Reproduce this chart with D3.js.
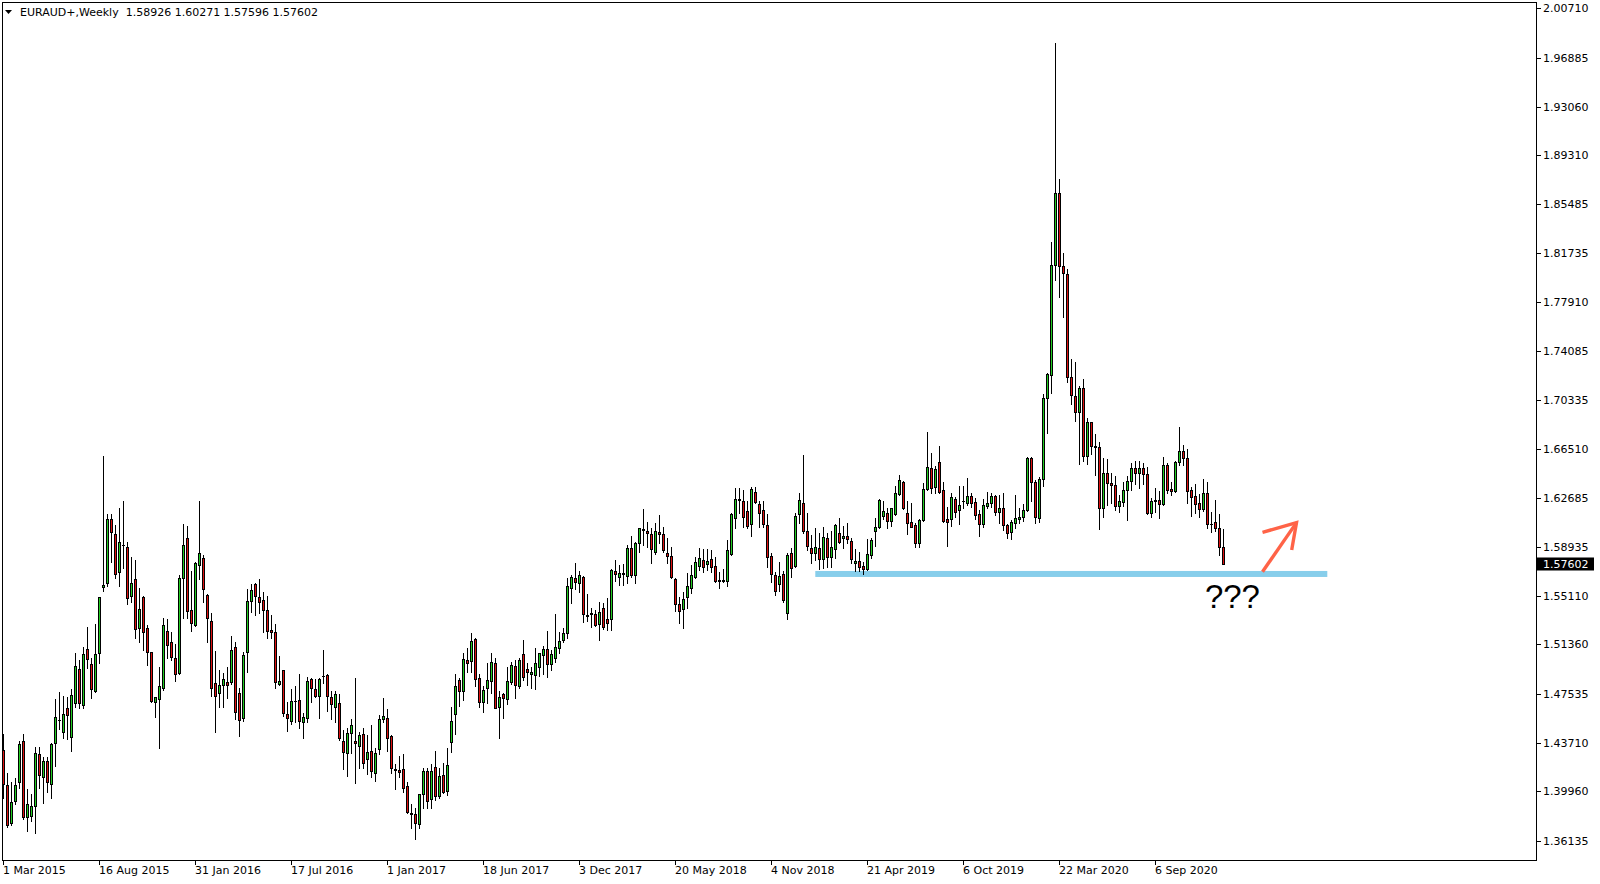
<!DOCTYPE html>
<html><head><meta charset="utf-8">
<script src="https://cdn.jsdelivr.net/npm/d3@7"></script>
<style>
html,body{margin:0;padding:0;background:#fff;}
svg{display:block;}
text{font-family:"DejaVu Sans",sans-serif;font-size:11px;fill:#000;}
</style></head>
<body><svg id="chart" width="1600" height="884"></svg>
<script>
const symbolTitle = "EURAUD+,Weekly  1.58926 1.60271 1.57596 1.57602";
const opens = [1.4316,1.4045,1.3747,1.3923,1.4065,1.4386,1.3794,1.3807,1.3882,1.4283,1.4109,1.4231,1.4050,1.4368,1.4550,1.4453,1.4639,1.4420,1.4678,1.4945,1.4665,1.5097,1.4983,1.4776,1.5066,1.5578,1.5609,1.6108,1.5992,1.5700,1.5910,1.5888,1.5513,1.5640,1.5260,1.5501,1.5260,1.5074,1.4691,1.4712,1.4800,1.5239,1.5152,1.5027,1.4911,1.5653,1.5958,1.5400,1.5286,1.5751,1.5803,1.5519,1.5317,1.4833,1.4756,1.4820,1.4846,1.4846,1.5118,1.4756,1.4562,1.5074,1.5475,1.5601,1.5506,1.5480,1.5400,1.5247,1.5229,1.4831,1.4934,1.4593,1.4541,1.4696,1.4702,1.4531,1.4567,1.4867,1.4787,1.4735,1.4887,1.4898,1.4725,1.4647,1.4678,1.4386,1.4290,1.4451,1.4389,1.4347,1.4438,1.4244,1.4306,1.4135,1.4321,1.4554,1.4562,1.4425,1.4170,1.4161,1.4169,1.4037,1.3830,1.3817,1.3739,1.3972,1.4153,1.3936,1.4182,1.3959,1.4122,1.3998,1.4381,1.4593,1.4859,1.4776,1.5014,1.5007,1.5175,1.4872,1.4691,1.4795,1.4851,1.4989,1.4647,1.4751,1.4709,1.4846,1.4968,1.4813,1.5058,1.4942,1.4903,1.4898,1.4960,1.5053,1.5097,1.4981,1.5027,1.5110,1.5170,1.5221,1.5570,1.5648,1.5609,1.5656,1.5362,1.5374,1.5371,1.5291,1.5415,1.5330,1.5330,1.5707,1.5661,1.5687,1.5668,1.5881,1.5671,1.5919,1.6030,1.6015,1.5992,1.5855,1.6010,1.5989,1.5842,1.5821,1.5640,1.5449,1.5407,1.5501,1.5570,1.5661,1.5746,1.5790,1.5757,1.5795,1.5744,1.5632,1.5628,1.5627,1.5837,1.6113,1.6256,1.6248,1.6170,1.6067,1.6315,1.6222,1.6178,1.6062,1.5821,1.5674,1.5601,1.5679,1.5376,1.5842,1.5744,1.6144,1.6235,1.6015,1.5881,1.5847,1.5881,1.5795,1.5958,1.5816,1.5873,1.5997,1.5958,1.5974,1.5940,1.5764,1.5782,1.5744,1.5718,1.5829,1.6018,1.6049,1.6134,1.6157,1.6095,1.6145,1.6300,1.6395,1.6152,1.6082,1.6062,1.5920,1.6100,1.6338,1.6501,1.6354,1.6548,1.6331,1.6108,1.6106,1.6263,1.6178,1.6245,1.6235,1.6287,1.6238,1.6145,1.6067,1.6212,1.6230,1.6287,1.6165,1.6196,1.6062,1.6005,1.6080,1.6108,1.6121,1.6178,1.6579,1.6398,1.6119,1.6416,1.7044,1.7225,1.8079,1.8635,1.8071,1.8006,1.7212,1.7062,1.6941,1.7122,1.6597,1.6858,1.6677,1.6669,1.6191,1.6468,1.6390,1.6372,1.6212,1.6243,1.6333,1.6403,1.6501,1.6462,1.6501,1.6455,1.6157,1.6248,1.6256,1.6222,1.6527,1.6341,1.6328,1.6553,1.6633,1.6579,1.6333,1.6287,1.6230,1.6183,1.6307,1.6067,1.6082,1.6036,1.58926];
const highs = [1.4438,1.4135,1.4065,1.4102,1.4386,1.4438,1.4014,1.3972,1.4342,1.4342,1.4264,1.4264,1.4373,1.4712,1.4764,1.4738,1.4727,1.4789,1.5066,1.5014,1.5118,1.5268,1.5027,1.5291,1.5505,1.6597,1.6147,1.6147,1.6062,1.6191,1.6248,1.5932,1.5811,1.5790,1.5570,1.5510,1.5286,1.5080,1.4730,1.4963,1.5338,1.5332,1.5234,1.5139,1.5674,1.6067,1.6054,1.5705,1.5772,1.6248,1.5829,1.5525,1.5376,1.5084,1.4937,1.4916,1.4963,1.5201,1.5157,1.4795,1.5079,1.5565,1.5604,1.5609,1.5643,1.5544,1.5511,1.5363,1.5291,1.5045,1.4940,1.4691,1.4789,1.4813,1.4906,1.4601,1.4880,1.4875,1.4867,1.4877,1.5092,1.4903,1.4774,1.4774,1.4751,1.4471,1.4484,1.4557,1.4875,1.4453,1.4484,1.4433,1.4510,1.4334,1.4588,1.4720,1.4634,1.4430,1.4208,1.4270,1.4283,1.4065,1.3895,1.3864,1.3975,1.4179,1.4179,1.4205,1.4308,1.4179,1.4213,1.4329,1.4647,1.4903,1.4877,1.5071,1.5105,1.5221,1.5183,1.4903,1.4813,1.4989,1.5066,1.5027,1.4774,1.4756,1.4960,1.5001,1.5014,1.5027,1.5170,1.4989,1.4963,1.5110,1.5070,1.5123,1.5239,1.5092,1.5370,1.5234,1.5260,1.5653,1.5674,1.5764,1.5705,1.5666,1.5524,1.5415,1.5402,1.5467,1.5454,1.5493,1.5720,1.5790,1.5751,1.5757,1.5907,1.5976,1.5932,1.6041,1.6183,1.6082,1.6041,1.6075,1.6139,1.6049,1.5963,1.5894,1.5653,1.5506,1.5545,1.5687,1.5751,1.5816,1.5881,1.5875,1.5873,1.5868,1.5816,1.5700,1.5718,1.5945,1.6158,1.6346,1.6346,1.6333,1.6248,1.6359,1.6359,1.6248,1.6248,1.6147,1.5842,1.5700,1.5772,1.5705,1.5842,1.5886,1.6152,1.6307,1.6605,1.6157,1.5984,1.6036,1.5997,1.6049,1.6002,1.6015,1.6070,1.6113,1.6054,1.6075,1.5958,1.5873,1.5850,1.5772,1.5953,1.5958,1.6119,1.6260,1.6248,1.6196,1.6196,1.6364,1.6450,1.6403,1.6250,1.6230,1.6075,1.6108,1.6390,1.6781,1.6618,1.6522,1.6675,1.6398,1.6199,1.6307,1.6282,1.6364,1.6364,1.6429,1.6313,1.6269,1.6178,1.6261,1.6320,1.6313,1.6292,1.6295,1.6313,1.6067,1.6100,1.6295,1.6191,1.6225,1.6592,1.6587,1.6411,1.6437,1.7078,1.7239,1.8260,1.9798,1.8746,1.8174,1.8045,1.7350,1.7324,1.7140,1.7194,1.6889,1.6863,1.6768,1.6703,1.6579,1.6571,1.6468,1.6442,1.6294,1.6398,1.6442,1.6545,1.6558,1.6558,1.6545,1.6514,1.6269,1.6346,1.6325,1.6592,1.6545,1.6398,1.6558,1.6819,1.6682,1.6649,1.6359,1.6380,1.6302,1.6416,1.6398,1.6165,1.6256,1.6144,1.60271];
const lows = [1.3941,1.3721,1.3734,1.3895,1.4024,1.3781,1.3690,1.3765,1.3670,1.4019,1.3902,1.3988,1.3941,1.4195,1.4479,1.4412,1.4401,1.4308,1.4652,1.4639,1.4645,1.4955,1.4722,1.4764,1.4988,1.5552,1.5591,1.5772,1.5653,1.5591,1.5731,1.5446,1.5462,1.5182,1.5157,1.5092,1.4976,1.4691,1.4575,1.4334,1.4782,1.5027,1.5014,1.4851,1.4903,1.5338,1.5338,1.5242,1.5280,1.5643,1.5467,1.5151,1.4738,1.4458,1.4652,1.4652,1.4717,1.4826,1.4554,1.4427,1.4541,1.4924,1.5389,1.5363,1.5376,1.5234,1.5188,1.5182,1.4795,1.4820,1.4583,1.4466,1.4515,1.4536,1.4484,1.4407,1.4536,1.4686,1.4730,1.4567,1.4833,1.4621,1.4557,1.4531,1.4391,1.4169,1.4117,1.4290,1.4063,1.4174,1.4174,1.4127,1.4109,1.4078,1.4283,1.4536,1.4311,1.4135,1.4014,1.4109,1.3988,1.3825,1.3712,1.3624,1.3708,1.3869,1.3869,1.3864,1.3928,1.3946,1.3980,1.3967,1.4303,1.4438,1.4660,1.4704,1.4919,1.4924,1.4815,1.4652,1.4614,1.4678,1.4756,1.4639,1.4412,1.4562,1.4673,1.4826,1.4722,1.4800,1.4859,1.4820,1.4800,1.4787,1.4893,1.4906,1.4885,1.4937,1.5001,1.5066,1.5156,1.5188,1.5454,1.5563,1.5545,1.5312,1.5317,1.5273,1.5280,1.5170,1.5255,1.5247,1.5247,1.5627,1.5596,1.5596,1.5609,1.5661,1.5609,1.5850,1.5907,1.5894,1.5769,1.5834,1.5919,1.5850,1.5769,1.5648,1.5395,1.5304,1.5265,1.5420,1.5537,1.5653,1.5713,1.5695,1.5713,1.5700,1.5622,1.5570,1.5617,1.5591,1.5829,1.6036,1.6152,1.6044,1.6036,1.5979,1.6235,1.6044,1.6044,1.5733,1.5622,1.5519,1.5552,1.5467,1.5332,1.5661,1.5733,1.6075,1.6002,1.5868,1.5764,1.5790,1.5718,1.5726,1.5738,1.5738,1.5803,1.5925,1.5886,1.5925,1.5769,1.5707,1.5707,1.5679,1.5713,1.5808,1.5901,1.6041,1.6108,1.6041,1.6056,1.6140,1.6294,1.6185,1.5990,1.6044,1.5888,1.5888,1.6093,1.6333,1.6307,1.6307,1.6313,1.6088,1.5899,1.6054,1.6126,1.6067,1.6196,1.6217,1.6199,1.6106,1.5976,1.6049,1.6196,1.6204,1.6139,1.6080,1.6023,1.5958,1.5953,1.6036,1.6075,1.6095,1.6170,1.6251,1.6080,1.6088,1.6364,1.6773,1.7083,1.7962,1.7833,1.7673,1.7174,1.7000,1.6868,1.6532,1.6561,1.6532,1.6610,1.6450,1.6028,1.6126,1.6217,1.6230,1.6178,1.6165,1.6212,1.6100,1.6333,1.6380,1.6346,1.6380,1.6147,1.6126,1.6165,1.6113,1.6217,1.6307,1.6294,1.6320,1.6527,1.6527,1.6230,1.6131,1.6152,1.6121,1.6173,1.6036,1.6010,1.6018,1.5829,1.57596];
const closes = [1.4050,1.3734,1.3910,1.4045,1.4363,1.3799,1.3895,1.3882,1.4290,1.4122,1.4231,1.4070,1.4363,1.4570,1.4546,1.4593,1.4588,1.4743,1.4968,1.4678,1.5058,1.5020,1.4787,1.5058,1.5501,1.5596,1.6108,1.6005,1.5679,1.5932,1.5905,1.5493,1.5609,1.5252,1.5407,1.5234,1.5074,1.4696,1.4725,1.4810,1.5286,1.5131,1.5040,1.4903,1.5648,1.5907,1.5395,1.5299,1.5764,1.5842,1.5563,1.5338,1.4795,1.4738,1.4820,1.4864,1.4820,1.5092,1.4614,1.4546,1.5053,1.5472,1.5557,1.5513,1.5462,1.5405,1.5242,1.5234,1.4841,1.4852,1.4601,1.4562,1.4696,1.4700,1.4541,1.4575,1.4852,1.4795,1.4735,1.4867,1.4892,1.4735,1.4670,1.4748,1.4412,1.4303,1.4446,1.4510,1.4368,1.4433,1.4213,1.4303,1.4156,1.4296,1.4557,1.4580,1.4412,1.4174,1.4160,1.4148,1.4019,1.3838,1.3822,1.3747,1.3972,1.4153,1.3921,1.4153,1.3962,1.4114,1.3993,1.4200,1.4541,1.4813,1.4776,1.5020,1.4994,1.5162,1.4864,1.4686,1.4782,1.4859,1.4996,1.4645,1.4730,1.4717,1.4851,1.4976,1.4820,1.5014,1.4885,1.4924,1.4921,1.4991,1.5066,1.5097,1.4981,1.5058,1.5118,1.5162,1.5221,1.5588,1.5661,1.5622,1.5674,1.5369,1.5356,1.5378,1.5286,1.5389,1.5273,1.5304,1.5713,1.5679,1.5687,1.5684,1.5881,1.5674,1.5919,1.6036,1.6023,1.5997,1.5873,1.6015,1.5995,1.5868,1.5821,1.5661,1.5446,1.5392,1.5485,1.5588,1.5674,1.5772,1.5803,1.5738,1.5782,1.5738,1.5630,1.5628,1.5632,1.5868,1.6147,1.6261,1.6260,1.6121,1.6057,1.6338,1.6243,1.6157,1.6069,1.5816,1.5679,1.5552,1.5666,1.5480,1.5829,1.5731,1.6132,1.6256,1.6018,1.5901,1.5847,1.5888,1.5795,1.5971,1.5811,1.5888,1.6062,1.5932,1.5979,1.5950,1.5795,1.5782,1.5738,1.5718,1.5834,1.5945,1.6049,1.6256,1.6170,1.6095,1.6191,1.6307,1.6411,1.6191,1.6075,1.6049,1.5920,1.6100,1.6338,1.6509,1.6351,1.6494,1.6320,1.6095,1.6088,1.6282,1.6165,1.6217,1.6250,1.6287,1.6235,1.6139,1.6067,1.6217,1.6235,1.6287,1.6165,1.6191,1.6062,1.6002,1.6082,1.6113,1.6121,1.6178,1.6579,1.6393,1.6126,1.6416,1.7044,1.7231,1.8079,1.8635,1.8071,1.8014,1.7212,1.7070,1.6941,1.7122,1.6597,1.6858,1.6677,1.6669,1.6191,1.6468,1.6385,1.6369,1.6212,1.6248,1.6333,1.6403,1.6501,1.6462,1.6501,1.6455,1.6157,1.6248,1.6256,1.6222,1.6527,1.6333,1.6328,1.6548,1.6633,1.6579,1.6328,1.6281,1.6225,1.6183,1.6307,1.6067,1.6072,1.6036,1.5888,1.57602];

const priceTicks = [2.00710,1.96885,1.93060,1.89310,1.85485,1.81735,1.77910,1.74085,1.70335,1.66510,1.62685,1.58935,1.55110,1.51360,1.47535,1.43710,1.39960,1.36135];
const priceTickLabels = ["2.00710","1.96885","1.93060","1.89310","1.85485","1.81735","1.77910","1.74085","1.70335","1.66510","1.62685","1.58935","1.55110","1.51360","1.47535","1.43710","1.39960","1.36135"];
const dateTickIndex = [0,24,48,72,96,120,144,168,192,216,240,264,288];
const dateTickLabels = ["1 Mar 2015","16 Aug 2015","31 Jan 2016","17 Jul 2016","1 Jan 2017","18 Jun 2017","3 Dec 2017","20 May 2018","4 Nov 2018","21 Apr 2019","6 Oct 2019","22 Mar 2020","6 Sep 2020"];
const lastPrice = 1.57602;
const supportLevel = 1.5682;
const supportRange = [203, 331];
const arrowShaft = [[314.8,1.5699],[323.3,1.6080]];
const arrowHead = [[314.8,1.6005],[323.3,1.6080],[322.1,1.5868]];
const questionLabel = {text:"???", index:300.4, price:1.5418};

const svg = d3.select("#chart");
const W = 1600, H = 884;
const plot = {left:2, top:2, right:1536, bottom:860};

const x = d3.scaleLinear().domain([0, 305]).range([3.3, 1223.3]);
const y = d3.scaleLinear().domain([1.36135, 2.00710]).range([840.6, 8.2]);

svg.append("rect").attr("width",W).attr("height",H).attr("fill","#fff");

svg.append("defs").append("clipPath").attr("id","clip")
  .append("rect").attr("x",plot.left).attr("y",plot.top)
  .attr("width",plot.right-plot.left).attr("height",plot.bottom-plot.top);

const g = svg.append("g").attr("clip-path","url(#clip)");

// support zone
g.append("rect")
  .attr("x", x(supportRange[0]))
  .attr("width", x(supportRange[1]) - x(supportRange[0]))
  .attr("y", y(supportLevel) - 3)
  .attr("height", 6)
  .attr("fill", "#87CEEB");

const data = opens.map((o,i)=>({i, o, h:highs[i], l:lows[i], c:closes[i]}));
const cg = g.append("g").attr("shape-rendering","crispEdges");
data.forEach(d=>{
  const cx = Math.round(x(d.i) - 0.3);
  cg.append("line")
    .attr("x1", cx+0.5).attr("x2", cx+0.5)
    .attr("y1", Math.round(y(d.h))).attr("y2", Math.round(y(d.l))+1)
    .attr("stroke","#000").attr("stroke-width",1);
  const yo = Math.round(y(d.o)), yc = Math.round(y(d.c));
  const top = Math.min(yo,yc), bot = Math.max(yo,yc);
  if (bot - top < 1) {
    cg.append("line").attr("x1",cx-1).attr("x2",cx+2)
      .attr("y1",top+0.5).attr("y2",top+0.5)
      .attr("stroke","#000").attr("stroke-width",1);
  } else {
    cg.append("rect")
      .attr("x", cx-0.5).attr("width", 2)
      .attr("y", top+0.5).attr("height", bot-top)
      .attr("fill", d.c >= d.o ? "#22cc22" : "#dd1111")
      .attr("stroke","#000").attr("stroke-width",1);
  }
});

// arrow annotation
const line = d3.line().x(p=>x(p[0])).y(p=>y(p[1]));
g.append("path").attr("d", line(arrowShaft)).attr("fill","none")
  .attr("stroke","#FF6347").attr("stroke-width",3.4);
g.append("path").attr("d", line(arrowHead)).attr("fill","none")
  .attr("stroke","#FF6347").attr("stroke-width",3.4).attr("stroke-linejoin","miter");

g.append("text").attr("x", x(questionLabel.index)).attr("y", y(questionLabel.price))
  .style("font-family","'Liberation Sans',Arial,sans-serif").style("font-size","33px")
  .text(questionLabel.text);

// frame
const fr = svg.append("g").attr("shape-rendering","crispEdges");
fr.append("line").attr("x1",plot.left+0.5).attr("x2",plot.left+0.5).attr("y1",plot.top).attr("y2",plot.bottom+1).attr("stroke","#000");
fr.append("line").attr("x1",plot.left).attr("x2",plot.right+1).attr("y1",plot.top+0.5).attr("y2",plot.top+0.5).attr("stroke","#000");
fr.append("line").attr("x1",plot.right+0.5).attr("x2",plot.right+0.5).attr("y1",plot.top).attr("y2",plot.bottom+1).attr("stroke","#000");
fr.append("line").attr("x1",plot.left).attr("x2",plot.right+1).attr("y1",plot.bottom+0.5).attr("y2",plot.bottom+0.5).attr("stroke","#000");

// price axis
priceTicks.forEach((p,k)=>{
  const yy = Math.round(y(p));
  if (yy < plot.bottom - 10) {
    fr.append("line").attr("x1",plot.right+1).attr("x2",plot.right+5)
      .attr("y1",yy+0.5).attr("y2",yy+0.5).attr("stroke","#000");
  }
  const ly = yy < plot.bottom - 10 ? yy : 869;
  svg.append("text").attr("x", 1543).attr("y", ly).attr("dy","0.36em").text(priceTickLabels[k]);
});

// last price box
const ly = y(lastPrice);
svg.append("rect").attr("x",1537).attr("y",Math.round(ly)-6.5).attr("width",57).attr("height",13).attr("fill","#000");
svg.append("text").attr("x",1543).attr("y",ly).attr("dy","0.36em").style("fill","#fff").text(lastPrice.toFixed(5));

// date axis
dateTickIndex.forEach((idx,k)=>{
  const xx = Math.round(x(idx) - 0.3);
  fr.append("line").attr("x1",xx+0.5).attr("x2",xx+0.5).attr("y1",plot.bottom+1).attr("y2",plot.bottom+5).attr("stroke","#000");
  svg.append("text").attr("x", xx).attr("y", 874).text(dateTickLabels[k]);
});

// header
svg.append("path").attr("d","M5,10 L12,10 L8.5,14 Z").attr("fill","#000");
svg.append("text").attr("x",20).attr("y",16).attr("xml:space","preserve").style("white-space","pre").text(symbolTitle);
</script>
</body></html>
